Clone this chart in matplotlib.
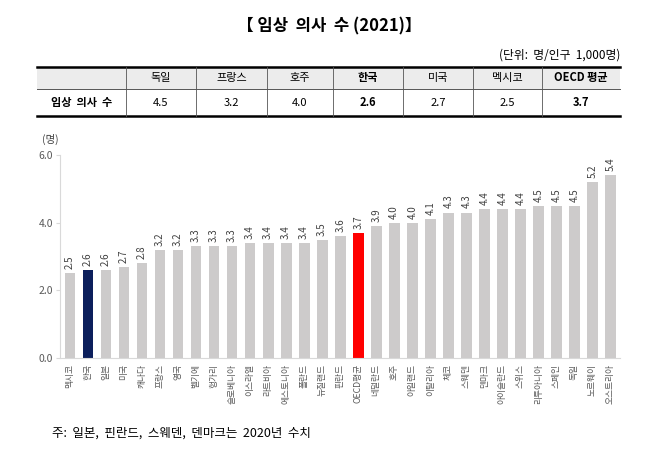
import matplotlib
matplotlib.use("Agg")
import matplotlib.pyplot as plt
from matplotlib.lines import Line2D
from matplotlib.patches import Rectangle

plt.rcParams["font.family"] = ["Noto Sans CJK KR", "DejaVu Sans"]

# summary table
table_cols = ["독일", "프랑스", "호주", "한국", "미국", "멕시코", "OECD 평균"]
table_vals = [4.5, 3.2, 4.0, 2.6, 2.7, 2.5, 3.7]
table_bold = ["한국", "OECD 평균"]

# bar chart
countries = ["멕시코", "한국", "일본", "미국", "캐나다", "프랑스", "영국", "벨기에",
             "헝가리", "슬로베니아", "이스라엘", "라트비아", "에스토니아", "폴란드",
             "뉴질랜드", "핀란드", "OECD평균", "네덜란드", "호주", "아일랜드",
             "이탈리아", "체코", "스웨덴", "덴마크", "아이슬란드", "스위스",
             "리투아니아", "스페인", "독일", "노르웨이", "오스트리아"]
doctors = [2.5, 2.6, 2.6, 2.7, 2.8, 3.2, 3.2, 3.3, 3.3, 3.3, 3.4, 3.4, 3.4, 3.4,
           3.5, 3.6, 3.7, 3.9, 4.0, 4.0, 4.1, 4.3, 4.3, 4.4, 4.4, 4.4, 4.5, 4.5,
           4.5, 5.2, 5.4]
yticks = [0, 2, 4, 6]

GRAY = "#cdcbcb"
NAVY = "#0c1f5c"
RED = "#ff0000"
W, H = 658, 461

fig = plt.figure(figsize=(W / 100, H / 100), dpi=100)

# overlay in pixel coordinates for title / table / note
ov = fig.add_axes([0, 0, 1, 1])
ov.set_xlim(0, W)
ov.set_ylim(H, 0)
ov.axis("off")

ov.text(329, 26, "【 임상  의사  수 (2021)】", ha="center", va="center",
        fontsize=12, fontweight="bold")
ov.text(620, 55, "(단위:  명/인구  1,000명)", ha="right", va="center",
        fontsize=8.5)

x_edges = [37, 126, 196, 267, 333, 403, 473, 542, 620]
y_top, y_mid, y_bot = 67, 89, 116
ov.add_patch(Rectangle((x_edges[0], y_top), x_edges[-1] - x_edges[0],
                       y_mid - y_top, color="#ececec", lw=0))
ov.add_line(Line2D([x_edges[0], x_edges[-1]], [y_top, y_top], color="black", lw=1.8))
ov.add_line(Line2D([x_edges[0], x_edges[-1]], [y_mid, y_mid], color="#555555", lw=0.7))
ov.add_line(Line2D([x_edges[0], x_edges[-1]], [y_bot, y_bot], color="black", lw=1.8))
for xe in x_edges[1:-1]:
    ov.add_line(Line2D([xe, xe], [y_top, y_bot], color="#555555", lw=0.6))

ov.text((x_edges[0] + x_edges[1]) / 2, (y_mid + y_bot) / 2, "임상  의사  수",
        ha="center", va="center", fontsize=8, fontweight="bold")
for i, (c, v) in enumerate(zip(table_cols, table_vals)):
    xc = (x_edges[i + 1] + x_edges[i + 2]) / 2
    fw = "bold" if c in table_bold else "normal"
    ov.text(xc, (y_top + y_mid) / 2, c, ha="center", va="center",
            fontsize=8, fontweight=fw)
    ov.text(xc, (y_mid + y_bot) / 2, f"{v:.1f}", ha="center", va="center",
            fontsize=8, fontweight=fw)

ov.text(52, 433, "주:  일본,  핀란드,  스웨덴,  덴마크는  2020년  수치",
        ha="left", va="center", fontsize=9)
ov.text(50, 139, "(명)", ha="center", va="center", fontsize=7.5,
        color="#404040")

# bar chart axes
x0, x1, yb, yt = 60, 620, 358, 155
ax = fig.add_axes([x0 / W, 1 - yb / H, (x1 - x0) / W, (yb - yt) / H])
colors = [NAVY if c == "한국" else RED if c == "OECD평균" else GRAY
          for c in countries]
xs = range(len(countries))
ax.bar(xs, doctors, width=0.6, color=colors)
for x, v in zip(xs, doctors):
    ax.text(x, v + 0.12, f"{v:.1f}", rotation=90, ha="center", va="bottom",
            fontsize=7, color="#404040")

ax.set_xlim(-0.55, len(countries) - 0.47)
ax.set_ylim(0, 6)
ax.set_yticks(yticks)
ax.set_yticklabels([f"{t:.1f}" for t in yticks], fontsize=7.5, color="#595959")
ax.set_xticks(list(xs))
ax.set_xticklabels(countries, rotation=90, fontsize=6.3, color="#595959",
                   va="top", ha="center")
ax.tick_params(axis="x", length=0, pad=4)
ax.tick_params(axis="y", length=3, color="#d9d9d9", pad=2)
for s in ["top", "right"]:
    ax.spines[s].set_visible(False)
for s in ["left", "bottom"]:
    ax.spines[s].set_color("#d9d9d9")
    ax.spines[s].set_linewidth(0.8)

fig.savefig("out.png", dpi=100)
